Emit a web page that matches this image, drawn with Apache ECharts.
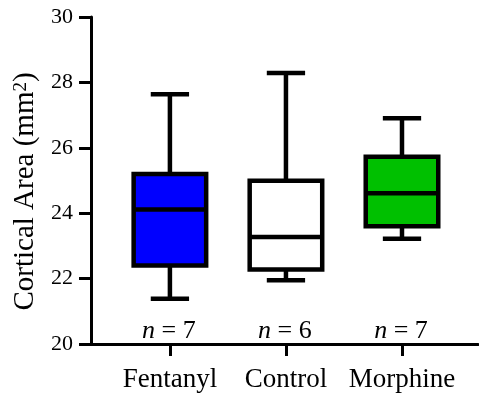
<!DOCTYPE html>
<html>
<head>
<meta charset="utf-8">
<script src="https://cdn.jsdelivr.net/npm/echarts@6/dist/echarts.min.js"></script>
<style>
  html, body { margin: 0; padding: 0; background: #fff; }
  #chart { width: 479px; height: 399px; }
</style>
</head>
<body>
<div id="chart"></div>
<script>
// Groups and box statistics (mm^2): min, Q1, median, Q3, max
const categories = ['Fentanyl', 'Control', 'Morphine'];
const minValues    = [21.38, 21.95, 23.22];
const q1Values     = [22.40, 22.28, 23.60];
const medianValues = [24.11, 23.27, 24.61];
const q3Values     = [25.20, 24.99, 25.73];
const maxValues    = [27.64, 28.29, 26.90];
const sampleSizes  = [7, 6, 7];
const boxColors    = ['#0000FF', '#FFFFFF', '#00C000'];
const yTicks = [20, 22, 24, 26, 28, 30];

const FONT = '"Liberation Serif", "Times New Roman", Times, serif';
const LW = 4.5;

const seriesData = categories.map((c, i) => [
  i + 1, minValues[i], q1Values[i], medianValues[i], q3Values[i], maxValues[i], sampleSizes[i]
]);

function renderBox(params, api) {
  const x = api.value(0);
  const vMin = api.value(1), vQ1 = api.value(2), vMed = api.value(3),
        vQ3 = api.value(4), vMax = api.value(5), n = api.value(6);
  const cx = api.coord([x, vMin])[0];
  const y = v => api.coord([x, v])[1];
  const halfBox = api.size([0.625, 0])[0] / 2;
  const halfCap = api.size([0.33, 0])[0] / 2;
  const line = { stroke: '#000', lineWidth: LW, lineCap: 'butt' };
  const idx = params.dataIndex;
  const yBase = api.coord([x, 20])[1];
  return {
    type: 'group',
    children: [
      { type: 'line', shape: { x1: cx, y1: y(vQ3), x2: cx, y2: y(vMax) }, style: line },
      { type: 'line', shape: { x1: cx - halfCap, y1: y(vMax), x2: cx + halfCap, y2: y(vMax) }, style: line },
      { type: 'line', shape: { x1: cx, y1: y(vQ1), x2: cx, y2: y(vMin) }, style: line },
      { type: 'line', shape: { x1: cx - halfCap, y1: y(vMin), x2: cx + halfCap, y2: y(vMin) }, style: line },
      { type: 'rect', shape: { x: cx - halfBox, y: y(vQ3), width: 2 * halfBox, height: y(vQ1) - y(vQ3) },
        style: { fill: boxColors[idx], stroke: '#000', lineWidth: LW } },
      { type: 'line', shape: { x1: cx - halfBox, y1: y(vMed), x2: cx + halfBox, y2: y(vMed) }, style: line },
      { type: 'text', x: cx - 1, y: yBase - 13,
        style: {
          text: '{i|n}{r| = ' + n + '}',
          align: 'center', verticalAlign: 'middle',
          fontFamily: FONT, fontSize: 26, fill: '#000',
          rich: {
            i: { fontStyle: 'italic', fontFamily: FONT, fontSize: 26, fill: '#000' },
            r: { fontFamily: FONT, fontSize: 26, fill: '#000' }
          }
        } }
    ]
  };
}

const chart = echarts.init(document.getElementById('chart'), null, { renderer: 'canvas' });
chart.setOption({
  animation: false,
  backgroundColor: '#fff',
  textStyle: { fontFamily: FONT },
  grid: { left: 91, top: 17, right: 1, bottom: 55 },
  xAxis: {
    type: 'value', min: 0.32, max: 3.655,
    splitLine: { show: false },
    axisLine: { show: true, lineStyle: { color: '#000', width: 3 } },
    axisTick: { show: true, length: 12, customValues: [1, 2, 3], lineStyle: { color: '#000', width: 3 } },
    axisLabel: {
      customValues: [1, 2, 3], margin: 22,
      formatter: v => categories[Math.round(v) - 1],
      fontFamily: FONT, fontSize: 27, color: '#000'
    }
  },
  yAxis: {
    type: 'value', min: 20, max: 30, interval: 2,
    name: 'Cortical Area (mm{s|2})',
    nameLocation: 'middle', nameGap: 50, nameRotate: 90,
    nameTextStyle: {
      fontFamily: FONT, fontSize: 29, color: '#000', padding: [0, 22, 0, 0],
      rich: { s: { fontFamily: FONT, fontSize: 19, color: '#000', verticalAlign: 'top', lineHeight: 29 } }
    },
    splitLine: { show: false },
    axisLine: { show: true, lineStyle: { color: '#000', width: 3 } },
    axisTick: { show: true, length: 12, lineStyle: { color: '#000', width: 3 } },
    axisLabel: { margin: 18, fontFamily: FONT, fontSize: 22, color: '#000',
      formatter: v => (yTicks.indexOf(v) >= 0 ? String(v) : '') }
  },
  series: [{
    type: 'custom',
    renderItem: renderBox,
    encode: { x: 0, y: [1, 2, 3, 4, 5] },
    data: seriesData,
    clip: false
  }]
});
</script>
</body>
</html>
